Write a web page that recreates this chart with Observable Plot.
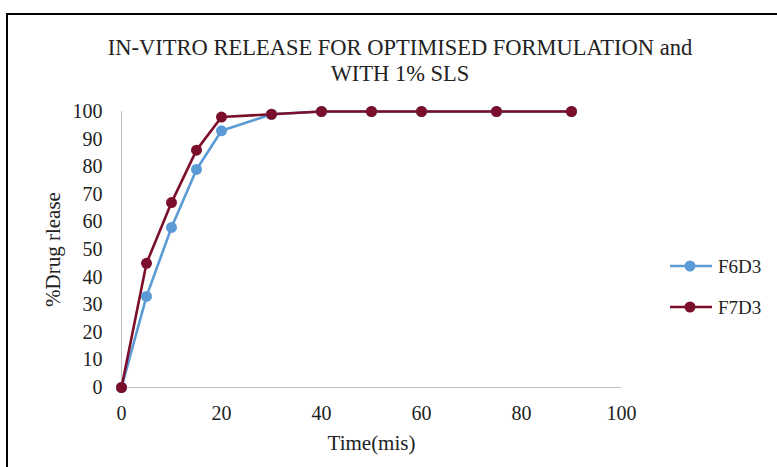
<!DOCTYPE html>
<html>
<head>
<meta charset="utf-8">
<script src="https://cdn.jsdelivr.net/npm/d3@7"></script>
<script src="https://cdn.jsdelivr.net/npm/@observablehq/plot@0.6"></script>
<style>
  html, body { margin: 0; padding: 0; background: #fff; }
  body { width: 777px; height: 467px; position: relative; overflow: hidden; }
  #frame { position: absolute; left: 6px; top: 13px; width: 800px; height: 500px; border: 2px solid #000; box-sizing: border-box; }
  #title { position: absolute; left: 0; top: 0; }
  #chart { position: absolute; left: 0; top: 95px; }
  #legend { position: absolute; left: 660px; top: 240px; }
</style>
</head>
<body>
<div id="frame"></div>
<svg id="title" width="777" height="95" font-family="Liberation Serif, Times New Roman, serif" fill="#222" text-anchor="middle">
  <text x="400" y="55" font-size="22.5">IN-VITRO RELEASE FOR OPTIMISED FORMULATION and</text>
  <text x="400" y="81" font-size="22.5">WITH 1% SLS</text>
</svg>
<div id="chart"></div>
<svg id="legend" width="117" height="90" font-family="Liberation Serif, Times New Roman, serif" font-size="19" fill="#222"></svg>
<script>
const times = [0, 5, 10, 15, 20, 30, 40, 50, 60, 75, 90];
const f6d3 = [0, 33, 58, 79, 93, 99, 100, 100, 100, 100, 100];
const f7d3 = [0, 45, 67, 86, 98, 99, 100, 100, 100, 100, 100];
const seriesNames = ["F6D3", "F7D3"];
const seriesColors = ["#5B9BD5", "#7B0F2B"];
const xTicks = [0, 20, 40, 60, 80, 100];
const yTicks = [0, 10, 20, 30, 40, 50, 60, 70, 80, 90, 100];

const data = [];
times.forEach((t, i) => {
  data.push({time: t, value: f6d3[i], series: seriesNames[0]});
  data.push({time: t, value: f7d3[i], series: seriesNames[1]});
});

const chart = Plot.plot({
  width: 777,
  height: 372,
  marginLeft: 121,
  marginRight: 156,
  marginTop: 16,
  marginBottom: 80,
  style: {fontFamily: "Liberation Serif, Times New Roman, serif", fontSize: "20px", color: "#222", background: "transparent"},
  x: {domain: [0, 100], ticks: xTicks, tickSize: 0, tickPadding: 18, label: null},
  y: {domain: [0, 100], ticks: yTicks, tickSize: 0, tickPadding: 19, label: null},
  color: {domain: seriesNames, range: seriesColors},
  marks: [
    Plot.ruleX([0], {stroke: "#c0c0c0", strokeWidth: 1}),
    Plot.ruleY([0], {stroke: "#c0c0c0", strokeWidth: 1}),
    Plot.line(data, {x: "time", y: "value", stroke: "series", strokeWidth: 2.6}),
    Plot.dot(data, {x: "time", y: "value", fill: "series", r: 5.5}),
    Plot.text(["Time(mis)"], {frameAnchor: "bottom", dy: 62, text: d => d, fontSize: 21, textAnchor: "middle"}),
    Plot.text(["%Drug rlease"], {frameAnchor: "left", dx: -68, rotate: -90, text: d => d, fontSize: 21, textAnchor: "middle"})
  ]
});
document.getElementById("chart").appendChild(chart);

const legend = d3.select("#legend");
seriesNames.forEach((name, i) => {
  const g = legend.append("g").attr("transform", `translate(0,${26 + i * 41})`);
  g.append("line").attr("x1", 10).attr("x2", 52).attr("y1", 0).attr("y2", 0)
    .attr("stroke", seriesColors[i]).attr("stroke-width", 2.6);
  g.append("circle").attr("cx", 30).attr("cy", 0).attr("r", 5.5).attr("fill", seriesColors[i]);
  g.append("text").attr("x", 58).attr("y", 0).attr("dy", "0.35em").text(name);
});
</script>
</body>
</html>
